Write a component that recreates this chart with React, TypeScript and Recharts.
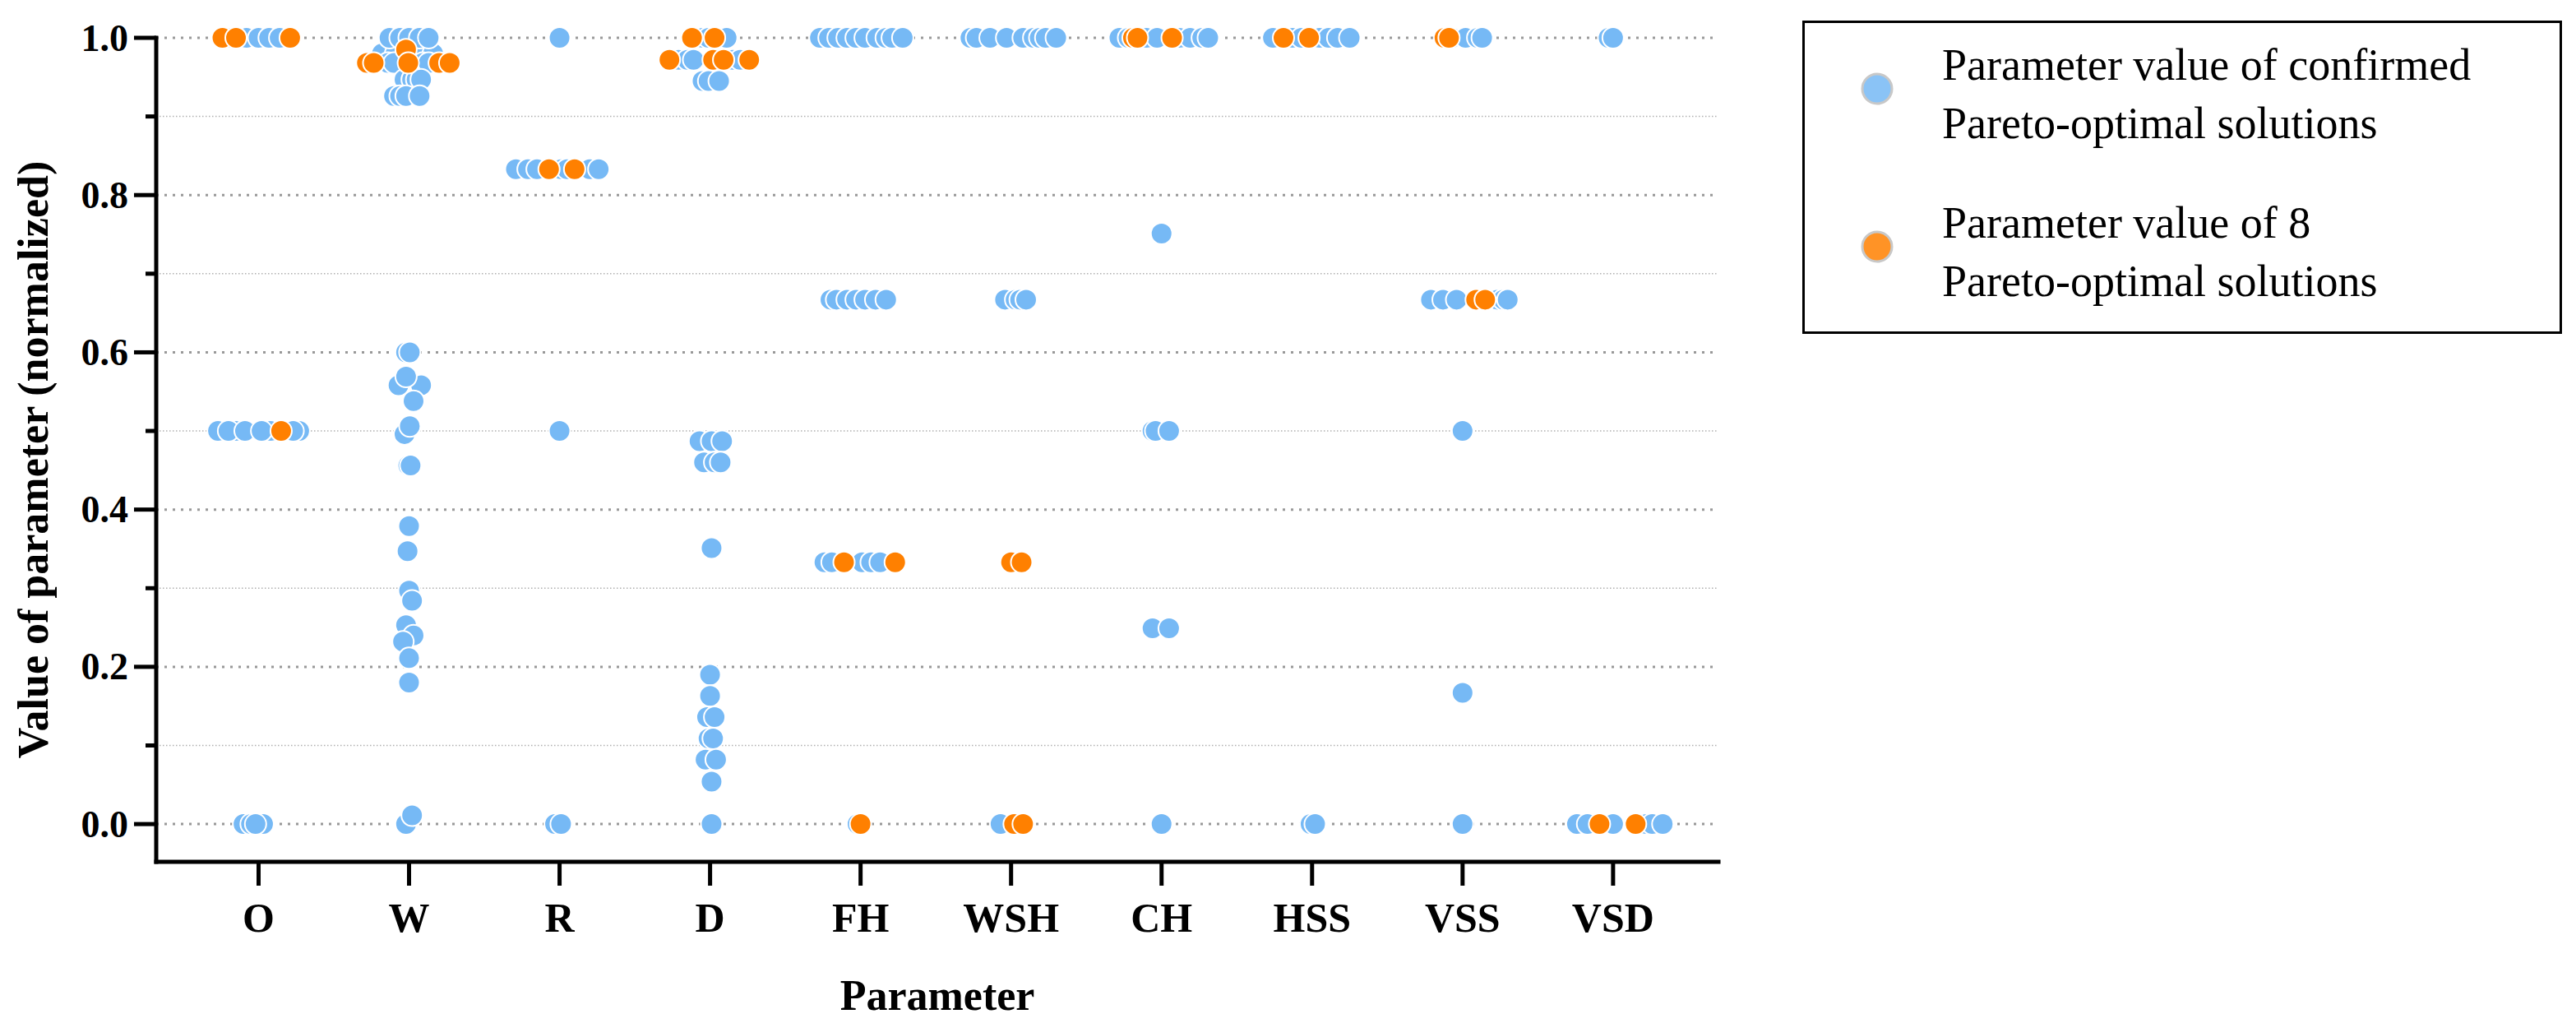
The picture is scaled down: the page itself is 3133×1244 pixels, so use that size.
import React from "react"
import { ScatterChart, Scatter, XAxis, YAxis, CartesianGrid, Legend } from "recharts"

// Parameters on the x axis
const categories = ["O", "W", "R", "D", "FH", "WSH", "CH", "HSS", "VSS", "VSD"]

// y axis ticks (normalized values)
const yTicks = [0, 0.1, 0.2, 0.3, 0.4, 0.5, 0.6, 0.7, 0.8, 0.9, 1.0]
const majorTicks = [0, 0.2, 0.4, 0.6, 0.8, 1.0]
const minorTicks = [0.1, 0.3, 0.5, 0.7, 0.9]

const seriesNames = [
  "Parameter value of confirmed\nPareto-optimal solutions",
  "Parameter value of 8\nPareto-optimal solutions",
]

// [parameter, normalized value, horizontal spread of the dots]
const confirmedRows: [string, number, number[]][] = [
  ["O", 1.0, [-0.12, -0.18, -0.08, 0.1, 0, 0.07, 0.14]],
  ["O", 0.5, [-0.27, -0.15, -0.2, -0.09, 0.08, 0.02, 0.27, 0.23]],
  ["O", 0.0, [-0.1, -0.05, 0.03, -0.02]],
  ["W", 0.98, [-0.18, -0.09, 0.1, 0.16]],
  ["W", 1.0, [-0.13, -0.06, 0, 0.07, 0.13]],
  ["W", 0.968, [-0.14, -0.1, 0.09, 0.13]],
  ["W", 0.947, [-0.03, 0.02, 0.05, 0.08]],
  ["W", 0.926, [-0.1, -0.06, -0.02, 0.07]],
  ["W", 0.6, [-0.02, 0.005]],
  ["W", 0.558, [-0.07, 0.08]],
  ["W", 0.569, [-0.02]],
  ["W", 0.538, [0.03]],
  ["W", 0.496, [-0.03]],
  ["W", 0.506, [0.005]],
  ["W", 0.456, [-0.005, 0.01]],
  ["W", 0.379, [0.0]],
  ["W", 0.347, [-0.01]],
  ["W", 0.297, [0.0]],
  ["W", 0.284, [0.02]],
  ["W", 0.253, [-0.02]],
  ["W", 0.24, [0.03]],
  ["W", 0.232, [-0.04]],
  ["W", 0.211, [0.0]],
  ["W", 0.18, [0.0]],
  ["W", 0.0, [-0.02]],
  ["W", 0.011, [0.02]],
  ["R", 1.0, [0]],
  ["R", 0.833, [-0.29, -0.21, -0.15, 0.01, 0.05, 0.2, 0.26]],
  ["R", 0.5, [0]],
  ["R", 0.0, [-0.03, 0.01]],
  ["D", 1.0, [-0.05, -0.01, 0.06, 0.11]],
  ["D", 0.972, [-0.21, -0.15, -0.11, 0.15, 0.2]],
  ["D", 0.945, [-0.05, -0.01, 0.06]],
  ["D", 0.487, [-0.07, 0.01, 0.08]],
  ["D", 0.46, [-0.04, 0.03, 0.07]],
  ["D", 0.351, [0.01]],
  ["D", 0.19, [0]],
  ["D", 0.163, [0]],
  ["D", 0.136, [-0.02, 0.03]],
  ["D", 0.109, [-0.01, 0.02]],
  ["D", 0.082, [-0.03, 0.04]],
  ["D", 0.054, [0.01]],
  ["D", 0.0, [0.01]],
  ["FH", 1.0, [-0.27, -0.21, -0.15, -0.09, -0.03, 0.03, 0.11, 0.17, 0.21, 0.28]],
  ["FH", 0.667, [-0.2, -0.16, -0.09, -0.03, 0.03, 0.1, 0.17]],
  ["FH", 0.333, [-0.24, -0.19, 0.01, 0.07, 0.13]],
  ["FH", 0.0, [-0.02]],
  ["WSH", 1.0, [-0.27, -0.23, -0.14, -0.03, 0.08, 0.15, 0.19, 0.23, 0.3]],
  ["WSH", 0.667, [-0.04, 0.03, 0.06, 0.1]],
  ["WSH", 0.333, [0.03]],
  ["WSH", 0.0, [-0.07]],
  ["CH", 1.0, [-0.28, -0.22, -0.1, -0.03, 0.12, 0.19, 0.27, 0.31]],
  ["CH", 0.751, [0]],
  ["CH", 0.5, [-0.06, -0.04, 0.05]],
  ["CH", 0.249, [-0.06, 0.05]],
  ["CH", 0.0, [0]],
  ["HSS", 1.0, [-0.26, -0.13, -0.07, 0.05, 0.11, 0.17, 0.25]],
  ["HSS", 0.0, [-0.01, 0.02]],
  ["VSS", 1.0, [-0.07, 0.02, 0.1, 0.13]],
  ["VSS", 0.667, [-0.21, -0.13, -0.04, 0.23, 0.27, 0.3]],
  ["VSS", 0.5, [0]],
  ["VSS", 0.167, [0]],
  ["VSS", 0.0, [0]],
  ["VSD", 1.0, [-0.03, 0.0]],
  ["VSD", 0.0, [-0.24, -0.17, 0, 0.22, 0.26, 0.33]],
]

const selectedRows: [string, number, number[]][] = [
  ["O", 1.0, [-0.24, -0.15, 0.21]],
  ["O", 0.5, [0.15]],
  ["W", 0.985, [-0.02]],
  ["W", 0.968, [-0.28, -0.235, -0.005, 0.2, 0.27]],
  ["R", 0.833, [-0.07, 0.1]],
  ["D", 1.0, [-0.12, 0.03]],
  ["D", 0.972, [-0.27, 0.02, 0.09, 0.26]],
  ["FH", 0.333, [-0.11, 0.23]],
  ["FH", 0.0, [0.0]],
  ["WSH", 0.333, [0.0, 0.07]],
  ["WSH", 0.0, [0.02, 0.08]],
  ["CH", 1.0, [-0.19, -0.16, 0.07]],
  ["HSS", 1.0, [-0.19, -0.02]],
  ["VSS", 1.0, [-0.12, -0.09]],
  ["VSS", 0.667, [0.09, 0.15]],
  ["VSD", 0.0, [-0.09, 0.15]],
]

const toPoints = (rows: [string, number, number[]][]) =>
  rows.flatMap(([cat, value, spread]) =>
    spread.map((s) => ({ x: categories.indexOf(cat) + s, y: value }))
  )

const confirmedData = toPoints(confirmedRows)
const selectedData = toPoints(selectedRows)

const FONT = "'Liberation Serif', 'Times New Roman', serif"
const BLUE = "#76B9F5"
const ORANGE = "#FF8000"

const Dot = (color: string) => (props: any) => (
  <circle cx={props.cx} cy={props.cy} r={13} fill={color} stroke="#fff" strokeWidth={2} />
)

const YTick = (props: any) => {
  const { x, y, payload } = props
  const v = payload.value
  const major = majorTicks.some((m) => Math.abs(m - v) < 1e-6)
  return (
    <g>
      <line x1={x - (major ? 27 : 13)} x2={x} y1={y} y2={y} stroke="#000" strokeWidth={5} />
      {major && (
        <text
          x={x - 34}
          y={y}
          textAnchor="end"
          dominantBaseline="central"
          fontFamily={FONT}
          fontWeight="bold"
          fontSize={46}
          fill="#000"
        >
          {v.toFixed(1)}
        </text>
      )}
    </g>
  )
}

const LegendBox = (props: any) => {
  const payload = [...(props.payload || [])].sort(
    (a: any, b: any) => seriesNames.indexOf(a.value) - seriesNames.indexOf(b.value)
  )
  return (
    <svg width={924} height={381}>
      <rect x={1.5} y={1.5} width={921} height={378} fill="#fff" stroke="#000" strokeWidth={3} />
      {payload.map((entry: any, i: number) => {
        const lines = String(entry.value).split("\n")
        const top = i * 192
        return (
          <g key={i}>
            <circle cx={91} cy={83 + top} r={18} fill={entry.color} fillOpacity={0.85} stroke="#c8c8c8" strokeWidth={3} />
            {lines.map((line, j) => (
              <text key={j} x={170} y={72 + top + j * 71} fontFamily={FONT} fontSize={54} fill="#000">
                {line}
              </text>
            ))}
          </g>
        )
      })}
    </svg>
  )
}

export default function App() {
  return (
    <div style={{ position: "absolute", left: 0, top: 0, width: 3133, height: 1244, background: "#fff" }}>
      <ScatterChart width={3133} height={1244} margin={{ top: 46, right: 1043, bottom: 0, left: 0 }}>
        <CartesianGrid
          vertical={false}
          horizontalValues={minorTicks}
          stroke="#b0b0b0"
          strokeWidth={1.5}
          strokeDasharray="1.5 2.5"
        />
        <CartesianGrid
          vertical={false}
          horizontalValues={majorTicks}
          stroke="#999"
          strokeWidth={3}
          strokeDasharray="3 7"
        />
        <XAxis
          type="number"
          dataKey="x"
          domain={[-0.68, 9.7]}
          ticks={[0, 1, 2, 3, 4, 5, 6, 7, 8, 9]}
          tickFormatter={(i: number) => categories[i]}
          interval={0}
          height={196}
          axisLine={{ stroke: "#000", strokeWidth: 5, strokeLinecap: "square" }}
          tickLine={{ stroke: "#000", strokeWidth: 5 }}
          tickSize={29}
          tickMargin={20}
          tick={{ fontFamily: FONT, fontWeight: "bold", fontSize: 50, fill: "#000" }}
          label={{
            content: (p: any) => {
              const vb = p.viewBox
              return (
                <text
                  x={vb.x + vb.width / 2}
                  y={vb.y + 162}
                  textAnchor="middle"
                  dominantBaseline="central"
                  fontFamily={FONT}
                  fontWeight="bold"
                  fontSize={52}
                  fill="#000"
                >
                  Parameter
                </text>
              )
            },
          }}
        />
        <YAxis
          type="number"
          dataKey="y"
          domain={[-0.048, 1]}
          ticks={yTicks}
          interval={0}
          width={190}
          axisLine={{ stroke: "#000", strokeWidth: 5, strokeLinecap: "square" }}
          tickLine={false}
          tickSize={0}
          tickMargin={0}
          tick={<YTick />}
          label={{
            content: (p: any) => {
              const vb = p.viewBox
              const cx = vb.x + 40
              const cy = vb.y + vb.height / 2 + 12
              return (
                <text
                  x={cx}
                  y={cy}
                  transform={`rotate(-90 ${cx} ${cy})`}
                  textAnchor="middle"
                  dominantBaseline="central"
                  fontFamily={FONT}
                  fontWeight="bold"
                  fontSize={52}
                  fill="#000"
                >
                  Value of parameter (normalized)
                </text>
              )
            },
          }}
        />
        <Legend
          layout="vertical"
          align="center"
          verticalAlign="middle"
          content={<LegendBox />}
          wrapperStyle={{ position: "absolute", left: 2192, top: 25, width: 924, height: 381 }}
        />
        <Scatter
          name={seriesNames[0]}
          data={confirmedData}
          fill={BLUE}
          shape={Dot(BLUE)}
          isAnimationActive={false}
        />
        <Scatter
          name={seriesNames[1]}
          data={selectedData}
          fill={ORANGE}
          shape={Dot(ORANGE)}
          isAnimationActive={false}
        />
      </ScatterChart>
    </div>
  )
}
